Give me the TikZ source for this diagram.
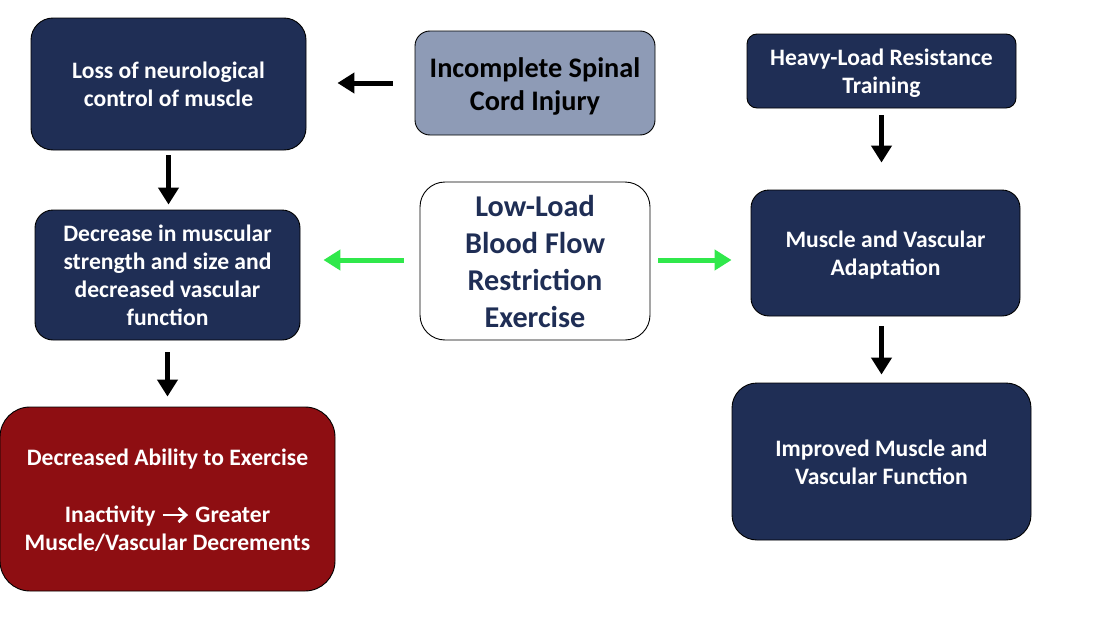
\documentclass[tikz,border=0pt]{standalone}
\usepackage{fontspec}
\setmainfont{Carlito}
\usetikzlibrary{arrows.meta}
\definecolor{navy}{HTML}{1F2E55}
\definecolor{darkred}{HTML}{8E0E12}
\definecolor{grayblue}{HTML}{8E9BB6}
\definecolor{brightgreen}{HTML}{30E84B}
\newcommand{\lowerby}[3]{\raisebox{-#1}[\height][\depth]{\parbox{#2}{\centering #3}}}
\tikzset{
  box/.style={draw=black, line width=0.9pt, align=center, inner sep=0pt, font=\bfseries\fontsize{23.6}{28}\selectfont},
  navybox/.style={box, fill=navy, text=white},
  blackarrow/.style={draw=black, line width=5pt, -{Triangle[length=17pt,width=20pt]}},
  greenarrow/.style={draw=brightgreen, line width=5pt, -{Triangle[length=17pt,width=20pt]}},
  textarrow/.style={draw=white, line width=2.8pt}
}
\begin{document}
\begin{tikzpicture}[x=1pt,y=-1pt]
\useasboundingbox (0,0) rectangle (1096,621);
\node[navybox, rounded corners=22pt, minimum width=275pt, minimum height=132pt] (loss) at (168.5,84) {Loss of neurological\\control of muscle};
\node[box, fill=grayblue, text=black, rounded corners=15pt, minimum width=240pt, minimum height=104pt, font=\bfseries\fontsize{28.3}{33}\selectfont] (sci) at (535,83) {\lowerby{3pt}{230pt}{Incomplete Spinal\\Cord Injury}};
\node[navybox, rounded corners=10pt, minimum width=269pt, minimum height=74pt] (heavy) at (881.5,71) {\lowerby{2.5pt}{260pt}{Heavy-Load Resistance\\Training}};
\node[navybox, rounded corners=18pt, minimum width=265pt, minimum height=130pt] (dec) at (167.5,275) {Decrease in muscular\\strength and size and\\decreased vascular\\function};
\node[box, fill=white, text=navy, rounded corners=25pt, minimum width=230pt, minimum height=158pt, font=\bfseries\fontsize{30.2}{37}\selectfont] (bfr) at (535,261) {\lowerby{1pt}{225pt}{Low-Load\\Blood Flow\\Restriction\\Exercise}};
\node[navybox, rounded corners=18pt, minimum width=269pt, minimum height=126pt] (adapt) at (885.5,253) {\lowerby{2pt}{260pt}{Muscle and Vascular\\Adaptation}};
\node[box, fill=darkred, text=white, rounded corners=30pt, minimum width=335pt, minimum height=184pt] (ability) at (167.5,499) {\lowerby{1pt}{330pt}{Decreased Ability to Exercise\\[29pt]Inactivity\hspace{40pt}Greater\\Muscle/Vascular Decrements}};
\node[navybox, rounded corners=25pt, minimum width=299pt, minimum height=157pt] (improved) at (881.5,461.5) {\lowerby{1pt}{290pt}{Improved Muscle and\\Vascular Function}};
% arrow glyph inside the red box text
\draw[textarrow] ([xshift=-5pt,yshift=-16pt]ability.center) -- ([xshift=18pt,yshift=-16pt]ability.center);
\draw[textarrow, line join=miter] ([xshift=11pt,yshift=-9pt]ability.center) -- ([xshift=18.5pt,yshift=-16pt]ability.center) -- ([xshift=11pt,yshift=-23pt]ability.center);
\draw[blackarrow, shorten <=22pt, shorten >=31pt] (sci.west) -- (loss.east |- sci.west);
\draw[blackarrow, shorten <=5pt, shorten >=5pt] (loss.south) -- (dec.north -| loss.south);
\draw[blackarrow, shorten <=12pt, shorten >=10pt] (dec.south) -- (ability.north);
\draw[blackarrow, shorten <=7pt, shorten >=27pt] (heavy.south) -- (adapt.north -| heavy.south);
\draw[blackarrow, shorten <=10pt, shorten >=8pt] (adapt.south -| improved.north) -- (improved.north);
\draw[greenarrow, shorten <=16pt, shorten >=23pt] (bfr.west |- 0,260) -- (dec.east |- 0,260);
\draw[greenarrow, shorten <=8pt, shorten >=19pt] (bfr.east |- 0,260) -- (adapt.west |- 0,260);
\end{tikzpicture}
\end{document}
